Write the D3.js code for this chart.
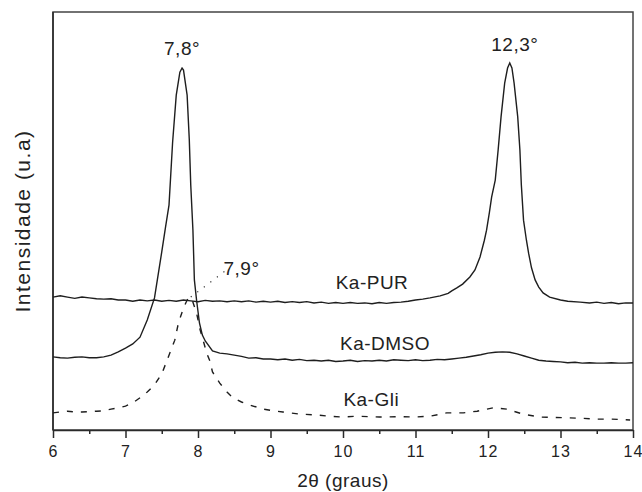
<!DOCTYPE html>
<html lang="pt">
<head>
<meta charset="utf-8">
<title>DRX - Ka-PUR, Ka-DMSO, Ka-Gli</title>
<style>
    body { margin: 0; background: #fff; }
    svg { display: block; font-family: "Liberation Sans", Arial, sans-serif; }
    .curve { fill: none; stroke: #1e1e1e; stroke-width: 1.4px; }
    .axis path, .axis line { stroke: #2a2a2a; stroke-width: 1.5px; }
    .axis text { font-size: 16px; fill: #222; letter-spacing: 1px; }
    .lbl { font-size: 19px; fill: #222; text-anchor: middle; letter-spacing: 0.5px; }
</style>
</head>
<body>
<script src="https://cdn.jsdelivr.net/npm/d3@7"></script>
<script>
// 2theta (graus) / intensidade (u.a)
const kaPUR = [
    [6.0, 318], [6.1, 321], [6.2, 318], [6.3, 315], [6.4, 318], [6.5, 316], [6.6, 314],
    [6.7, 313], [6.8, 314], [6.9, 311], [7.0, 311], [7.1, 308], [7.2, 311], [7.3, 309],
    [7.4, 311], [7.5, 308], [7.6, 310], [7.7, 308], [7.8, 311], [7.9, 309], [8.0, 307],
    [8.1, 310], [8.2, 308], [8.3, 309], [8.4, 307], [8.5, 309], [8.6, 307], [8.7, 309],
    [8.8, 306], [8.9, 308], [9.0, 306], [9.1, 308], [9.2, 305], [9.3, 307], [9.4, 305],
    [9.5, 307], [9.6, 304], [9.7, 306], [9.8, 303], [9.9, 305], [10.0, 303], [10.1, 305],
    [10.2, 303], [10.3, 304], [10.4, 302], [10.5, 305], [10.6, 303], [10.7, 305],
    [10.8, 306], [10.9, 308], [11.0, 311], [11.1, 313], [11.2, 316], [11.34, 321],
    [11.45, 327], [11.5, 333], [11.57, 340], [11.65, 349], [11.75, 366], [11.82, 383],
    [11.89, 414], [11.95, 454], [11.98, 478], [12.02, 521], [12.05, 557], [12.1, 598],
    [12.14, 670], [12.18, 749], [12.23, 830], [12.27, 866], [12.3, 878], [12.33, 866],
    [12.36, 830], [12.41, 749], [12.44, 670], [12.46, 586], [12.49, 502], [12.53, 454],
    [12.56, 423], [12.6, 388], [12.65, 359], [12.7, 342], [12.76, 328], [12.85, 318],
    [13.0, 311], [13.1, 308], [13.27, 306], [13.4, 304], [13.5, 306], [13.6, 303],
    [13.7, 305], [13.8, 302], [13.9, 304], [14.0, 304]
];
const kaDMSO = [
    [6.0, 175], [6.1, 173], [6.2, 172], [6.3, 174], [6.4, 175], [6.5, 173], [6.6, 173],
    [6.7, 175], [6.8, 179], [6.9, 187], [7.0, 196], [7.1, 206], [7.2, 222], [7.3, 263],
    [7.4, 316], [7.5, 426], [7.55, 483], [7.6, 538], [7.65, 689], [7.7, 801], [7.75, 856],
    [7.78, 866], [7.8, 861], [7.85, 801], [7.88, 694], [7.9, 586], [7.93, 478],
    [7.95, 359], [7.98, 311], [8.02, 256], [8.06, 227], [8.1, 213], [8.2, 189],
    [8.3, 184], [8.4, 182], [8.5, 179], [8.6, 176], [8.7, 172], [8.8, 173], [8.9, 170],
    [9.0, 170], [9.1, 168], [9.2, 170], [9.3, 167], [9.4, 169], [9.5, 166], [9.6, 167],
    [9.7, 165], [9.8, 167], [9.9, 164], [10.0, 165], [10.1, 167], [10.2, 164],
    [10.3, 166], [10.4, 165], [10.5, 167], [10.6, 165], [10.7, 168], [10.8, 167],
    [10.9, 166], [11.0, 168], [11.1, 166], [11.2, 167], [11.3, 169], [11.4, 168],
    [11.5, 170], [11.6, 172], [11.7, 174], [11.8, 177], [11.9, 180], [12.0, 184],
    [12.1, 186], [12.2, 187], [12.3, 186], [12.4, 182], [12.5, 177], [12.6, 172],
    [12.7, 167], [12.8, 165], [12.9, 164], [13.0, 163], [13.1, 161], [13.2, 162],
    [13.3, 160], [13.4, 161], [13.5, 160], [13.6, 160], [13.7, 161], [13.8, 160],
    [13.9, 160], [14.0, 161]
];
const kaGli = [
    [6.0, 41], [6.1, 43], [6.2, 45], [6.3, 43], [6.4, 43], [6.5, 44], [6.6, 45],
    [6.7, 46], [6.8, 50], [6.9, 53], [7.0, 57], [7.1, 65], [7.2, 77], [7.3, 91],
    [7.4, 108], [7.5, 134], [7.6, 179], [7.68, 215], [7.73, 256], [7.8, 292],
    [7.85, 311], [7.88, 318], [7.92, 311], [7.98, 280], [8.03, 239], [8.07, 215],
    [8.12, 184], [8.16, 167], [8.2, 139], [8.3, 112], [8.4, 91], [8.48, 77], [8.6, 67],
    [8.71, 60], [8.9, 50], [9.0, 47], [9.17, 43], [9.4, 38], [9.64, 36], [9.8, 33],
    [10.0, 31], [10.2, 33], [10.5, 31], [10.8, 32], [11.0, 31], [11.2, 33], [11.43, 41],
    [11.66, 41], [11.85, 45], [12.07, 53], [12.26, 50], [12.48, 38], [12.72, 31],
    [12.9, 30], [13.13, 29], [13.3, 28], [13.5, 26], [13.7, 26], [13.96, 24]
];

const xTicks = [6, 7, 8, 9, 10, 11, 12, 13, 14];

const margin = {top: 12, right: 9, bottom: 62, left: 53},
    width = 642 - margin.left - margin.right,
    height = 492 - margin.top - margin.bottom;

const svg = d3.select("body").append("svg")
    .attr("width", 642)
    .attr("height", 492);

const g = svg.append("g")
    .attr("transform", "translate(" + margin.left + "," + margin.top + ")");

const x = d3.scaleLinear().domain([6, 14]).range([0, width]);
const y = d3.scaleLinear().domain([0, 1000]).range([height, 0]);

// frame
g.append("rect")
    .attr("width", width)
    .attr("height", height)
    .attr("fill", "none")
    .attr("stroke", "#444")
    .attr("stroke-width", 1.5);

// minor ticks at the half degrees
g.append("g")
    .attr("class", "axis")
    .attr("transform", "translate(0," + height + ")")
    .call(d3.axisBottom(x).tickValues(d3.range(6.5, 14, 1)).tickSize(4).tickFormat(""))
    .select(".domain").remove();

g.append("g")
    .attr("class", "axis")
    .attr("transform", "translate(0," + height + ")")
    .call(d3.axisBottom(x).tickValues(xTicks).tickSize(8).tickSizeOuter(0).tickPadding(8)
        .tickFormat(d3.format("d")));

g.append("line")
    .attr("x1", 0).attr("x2", 0)
    .attr("y1", 0).attr("y2", height)
    .attr("stroke", "#2a2a2a")
    .attr("stroke-width", 1.5);

const line = d3.line()
    .x(function(d) { return x(d[0]); })
    .y(function(d) { return y(d[1]); });

g.append("path").datum(kaPUR).attr("class", "curve").attr("d", line);
g.append("path").datum(kaDMSO).attr("class", "curve").attr("d", line);
g.append("path").datum(kaGli).attr("class", "curve")
    .attr("stroke-dasharray", "6,8")
    .attr("d", line);

// leader line to the 7,9 label
g.append("line")
    .attr("x1", x(7.9)).attr("y1", y(318))
    .attr("x2", x(8.41)).attr("y2", y(385))
    .attr("stroke", "#333")
    .attr("stroke-width", 1.2)
    .attr("stroke-dasharray", "1.2,7");

const labels = [
    {t: "7,8°", x: 7.78, y: 897},
    {t: "12,3°", x: 12.37, y: 907},
    {t: "7,9°", x: 8.6, y: 371},
    {t: "Ka-PUR", x: 10.4, y: 337},
    {t: "Ka-DMSO", x: 10.58, y: 191},
    {t: "Ka-Gli", x: 10.39, y: 57}
];

g.selectAll(".lbl")
    .data(labels)
    .enter().append("text")
    .attr("class", "lbl")
    .attr("x", function(d) { return x(d.x); })
    .attr("y", function(d) { return y(d.y); })
    .text(function(d) { return d.t; });

svg.append("text")
    .attr("x", margin.left + width / 2)
    .attr("y", 487)
    .attr("text-anchor", "middle")
    .style("font-size", "19px")
    .style("letter-spacing", "0.5px")
    .style("fill", "#222")
    .text("2θ (graus)");

svg.append("text")
    .attr("transform", "translate(30," + (margin.top + height / 2) + ") rotate(-90)")
    .attr("text-anchor", "middle")
    .style("font-size", "21px")
    .style("letter-spacing", "1.5px")
    .style("fill", "#222")
    .text("Intensidade (u.a)");
</script>
</body>
</html>
